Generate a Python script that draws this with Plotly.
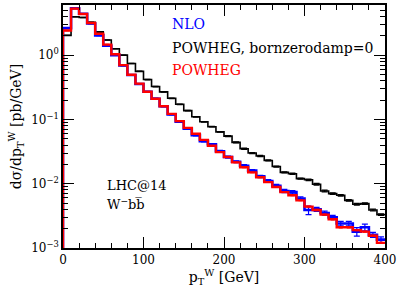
import numpy as np
import plotly.graph_objects as go

# ---- data ----
bin_edges = list(range(0, 410, 10))  # pT^W bins [GeV]

nlo = [2.63, 5.35, 4.40, 3.10, 2.03, 1.40, 1.00, 0.69, 0.49, 0.355,
       0.27, 0.21, 0.16, 0.12, 0.092, 0.072, 0.057, 0.046, 0.041, 0.032,
       0.026, 0.022, 0.019, 0.016, 0.013, 0.011, 0.0093, 0.0077, 0.0074, 0.0059,
       0.0039, 0.0040, 0.0035, 0.0030, 0.0024, 0.0024, 0.0018, 0.0021, 0.0016, 0.00135]

powheg_bzd0 = [2.03, 3.95, 3.85, 3.25, 2.30, 1.72, 1.26, 1.00, 0.74, 0.56,
               0.417, 0.325, 0.268, 0.213, 0.172, 0.137, 0.110, 0.092, 0.077, 0.064,
               0.055, 0.044, 0.035, 0.030, 0.027, 0.023, 0.0185, 0.015, 0.0143, 0.012,
               0.0115, 0.0098, 0.0077, 0.0070, 0.0066, 0.0055, 0.0048, 0.0049, 0.0039, 0.0033]

powheg = [2.42, 5.30, 4.37, 3.17, 2.15, 1.46, 1.03, 0.70, 0.495, 0.36,
          0.27, 0.21, 0.16, 0.122, 0.094, 0.074, 0.060, 0.048, 0.039, 0.031,
          0.026, 0.0215, 0.018, 0.015, 0.0126, 0.0106, 0.0089, 0.0074, 0.0066, 0.0055,
          0.0044, 0.0039, 0.0033, 0.0028, 0.0021, 0.0021, 0.0019, 0.0018, 0.00155, 0.0012]

# relative statistical errors
nlo_relerr = [0.01, 0.01, 0.01, 0.01, 0.01, 0.01, 0.01, 0.01, 0.015, 0.015,
              0.015, 0.02, 0.02, 0.02, 0.02, 0.025, 0.025, 0.03, 0.03, 0.03,
              0.035, 0.035, 0.04, 0.04, 0.04, 0.05, 0.05, 0.06, 0.06, 0.06,
              0.15, 0.07, 0.07, 0.07, 0.08, 0.08, 0.15, 0.12, 0.09, 0.10]
bzd0_relerr = [0.005] * 10 + [0.01] * 10 + [0.02] * 10 + [0.03] * 10
powheg_relerr = [0.005] * 20 + [0.01] * 10 + [0.02] * 10

ytick_vals = [1e-3, 1e-2, 1e-1, 1]
ytick_text = ["10<sup>−3</sup>", "10<sup>−2</sup>", "10<sup>−1</sup>", "10<sup>0</sup>"]
xtick_vals = [0, 100, 200, 300, 400]

FONT = "DejaVu Serif"


def step_xy(vals):
    xs = [bin_edges[0]] + bin_edges[:-1] + [bin_edges[-1]]
    ys = [1e-6] + list(vals) + [vals[-1]]
    return xs, ys


centres = [(a + b) / 2 for a, b in zip(bin_edges[:-1], bin_edges[1:])]

fig = go.Figure()


def add_hist(vals, relerr, color, width, capw):
    xs, ys = step_xy(vals)
    fig.add_trace(go.Scatter(x=xs, y=ys, mode="lines", line=dict(color=color, width=width, shape="hv"),
                             showlegend=False, hoverinfo="skip"))
    err = [v * e for v, e in zip(vals, relerr)]
    fig.add_trace(go.Scatter(x=centres, y=vals, mode="markers", marker=dict(size=1, color=color, opacity=0),
                             error_y=dict(type="data", array=err, visible=True, color=color, thickness=1.2, width=capw),
                             showlegend=False, hoverinfo="skip"))


add_hist(powheg_bzd0, bzd0_relerr, "black", 1.6, 3)
add_hist(nlo, nlo_relerr, "blue", 2.6, 3)
add_hist(powheg, powheg_relerr, "red", 2.4, 2)

axis_common = dict(showline=True, linecolor="black", linewidth=1.5, mirror="allticks",
                   ticks="inside", ticklen=11, tickwidth=1, tickcolor="black",
                   showgrid=False, zeroline=False,
                   tickfont=dict(family=FONT, size=12, color="black"))

fig.update_xaxes(range=[0, 400], tickvals=xtick_vals, ticktext=[str(v) for v in xtick_vals],
                 minor=dict(ticks="inside", ticklen=5, dtick=20, tickcolor="black", showgrid=False),
                 title=dict(text="p<sub>T</sub><sup>W</sup> [GeV]", font=dict(family=FONT, size=14, color="black"),
                            standoff=4),
                 **axis_common)
fig.update_yaxes(type="log", range=[-3, 0.78], tickvals=ytick_vals, ticktext=ytick_text,
                 minor=dict(ticks="inside", ticklen=5, dtick="D1", tickcolor="black", showgrid=False),
                 title=dict(text="dσ/dp<sub>T</sub><sup>W</sup> [pb/GeV]", font=dict(family=FONT, size=14, color="black"),
                            standoff=6),
                 **axis_common)

legend_items = [("NLO", "blue", 22), ("POWHEG, bornzerodamp=0", "black", 46), ("POWHEG", "red", 69)]
for txt, col, ypx in legend_items:
    fig.add_annotation(xref="paper", yref="paper", x=(170 - 63) / 323, y=1 - (ypx - 3) / 245,
                       text=txt, showarrow=False, xanchor="left", yanchor="middle",
                       font=dict(family=FONT, size=14, color=col))

fig.add_annotation(xref="paper", yref="paper", x=(105 - 63) / 323, y=1 - (185 - 3) / 245,
                   text="LHC@14", showarrow=False, xanchor="left", yanchor="middle",
                   font=dict(family=FONT, size=13, color="black"))
fig.add_annotation(xref="paper", yref="paper", x=(105 - 63) / 323, y=1 - (204 - 3) / 245,
                   text="W<sup>−</sup>bb\u0305", showarrow=False, xanchor="left", yanchor="middle",
                   font=dict(family=FONT, size=13, color="black"))

fig.update_layout(width=399, height=291, margin=dict(l=63, r=13, t=3, b=43),
                  paper_bgcolor="white", plot_bgcolor="white", showlegend=False)

fig.write_html("out.html", config={"displayModeBar": False},
               post_script="document.body.style.margin='0px';document.body.style.overflow='hidden';")
